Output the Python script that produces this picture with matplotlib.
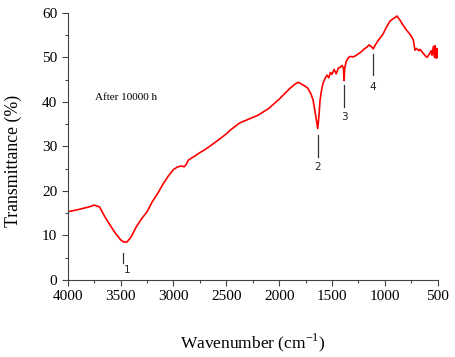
import numpy as np
import matplotlib
matplotlib.use("Agg")
import matplotlib.pyplot as plt
from matplotlib.ticker import MultipleLocator

# FTIR spectrum (wavenumber in cm-1, transmittance in %)
wavenumber = [4000, 3900, 3800, 3750, 3700, 3650, 3600, 3550, 3500, 3470, 3440,
              3400, 3350, 3300, 3250, 3200, 3150, 3100, 3050, 3000, 2960, 2920,
              2900, 2880, 2860, 2800, 2750, 2700, 2600, 2500, 2465, 2400, 2370,
              2300, 2200, 2100, 2000, 1950, 1900, 1850, 1820, 1790, 1760, 1730,
              1700, 1680, 1660, 1645, 1635, 1625, 1613, 1600, 1585, 1565, 1547,
              1530, 1515, 1500, 1480, 1460, 1440, 1420, 1405, 1392, 1386, 1380,
              1367, 1350, 1329, 1300, 1282, 1250, 1220, 1200, 1170, 1150, 1122,
              1110, 1090, 1063, 1040, 1016, 985, 950, 920, 900, 886, 870, 855,
              838, 815, 791, 770, 743, 730, 715, 700, 680, 667, 640, 620, 601,
              580, 560, 554, 540, 530, 525, 515, 505, 500]
transmittance = [15.3, 15.8, 16.4, 16.8, 16.4, 14.2, 12.3, 10.5, 9.0, 8.5, 8.5,
                 9.7, 12.0, 13.8, 15.3, 17.6, 19.4, 21.5, 23.3, 24.8, 25.4, 25.6,
                 25.4, 25.9, 26.9, 27.8, 28.6, 29.3, 31.0, 32.8, 33.6, 34.8, 35.3,
                 36.0, 37.0, 38.5, 40.6, 41.8, 43.0, 44.0, 44.4, 44.0, 43.6, 43.1,
                 41.8, 40.5, 37.7, 35.5, 34.0, 36.5, 40.4, 42.5, 44.2, 45.3, 46.0,
                 45.4, 46.6, 46.2, 47.3, 46.3, 47.6, 47.8, 48.2, 47.6, 44.8, 47.5,
                 49.0, 49.8, 50.2, 50.1, 50.3, 50.8, 51.3, 51.8, 52.3, 52.8, 52.3,
                 51.9, 52.8, 53.8, 54.5, 55.3, 56.8, 58.2, 58.7, 59.0, 59.3, 58.8,
                 58.3, 57.6, 56.8, 56.0, 55.4, 54.5, 53.8, 51.6, 52.0, 51.5, 51.8,
                 51.0, 50.4, 50.0, 50.7, 51.5, 50.5, 52.5, 50.0, 52.6, 49.8, 52.0,
                 50.0]

# band markers: position, line top/bottom, label position
band_labels = ["1", "2", "3", "4"]
band_pos = [3480, 1635, 1383, 1115]
band_top = [6.1, 32.5, 43.7, 50.8]
band_bottom = [3.8, 27.6, 38.8, 46.1]
band_text_x = [3442, 1635, 1383, 1115]
band_text_y = [2.2, 25.4, 36.6, 43.3]

plt.rcParams['font.family'] = ['Liberation Serif', 'DejaVu Serif']
plt.rcParams['mathtext.fontset'] = 'custom'
plt.rcParams['mathtext.rm'] = 'Liberation Serif'

fig = plt.figure(figsize=(4.55, 3.57), dpi=100)
ax = fig.add_axes([0.149, 0.216, 0.813, 0.748])

ax.plot(wavenumber, transmittance, color='red', lw=1.2)

for lab, x, t, b, tx, ty in zip(band_labels, band_pos, band_top, band_bottom,
                                band_text_x, band_text_y):
    ax.plot([x, x], [b, t], color='#333333', lw=0.9)
    ax.text(tx, ty, lab, ha='center', va='center', fontsize=7.5,
            family='DejaVu Sans', color='#222222')

ax.text(3740, 41, "After 10000 h", fontsize=8, ha='left', va='center')

ax.set_xlim(4000, 500)
ax.set_ylim(0, 60)
ax.xaxis.set_major_locator(MultipleLocator(500))
ax.xaxis.set_minor_locator(MultipleLocator(250))
ax.yaxis.set_major_locator(MultipleLocator(10))
ax.yaxis.set_minor_locator(MultipleLocator(5))
ax.tick_params(which='major', direction='out', length=4, width=0.8,
               labelsize=11, color='#444444')
ax.tick_params(which='minor', direction='out', length=2.5, width=0.8,
               color='#444444')
for s in ['top', 'right']:
    ax.spines[s].set_visible(False)
for s in ['left', 'bottom']:
    ax.spines[s].set_color('#444444')

ax.set_xlabel(r"Wavenumber (cm$^{\mathregular{-1}}$)", fontsize=12.5)
ax.set_ylabel("Transmittance (%)", fontsize=12.8)
ax.xaxis.set_label_coords(0.5, -0.195)
ax.yaxis.set_label_coords(-0.124, 0.445)

fig.savefig("out.png", dpi=100)
